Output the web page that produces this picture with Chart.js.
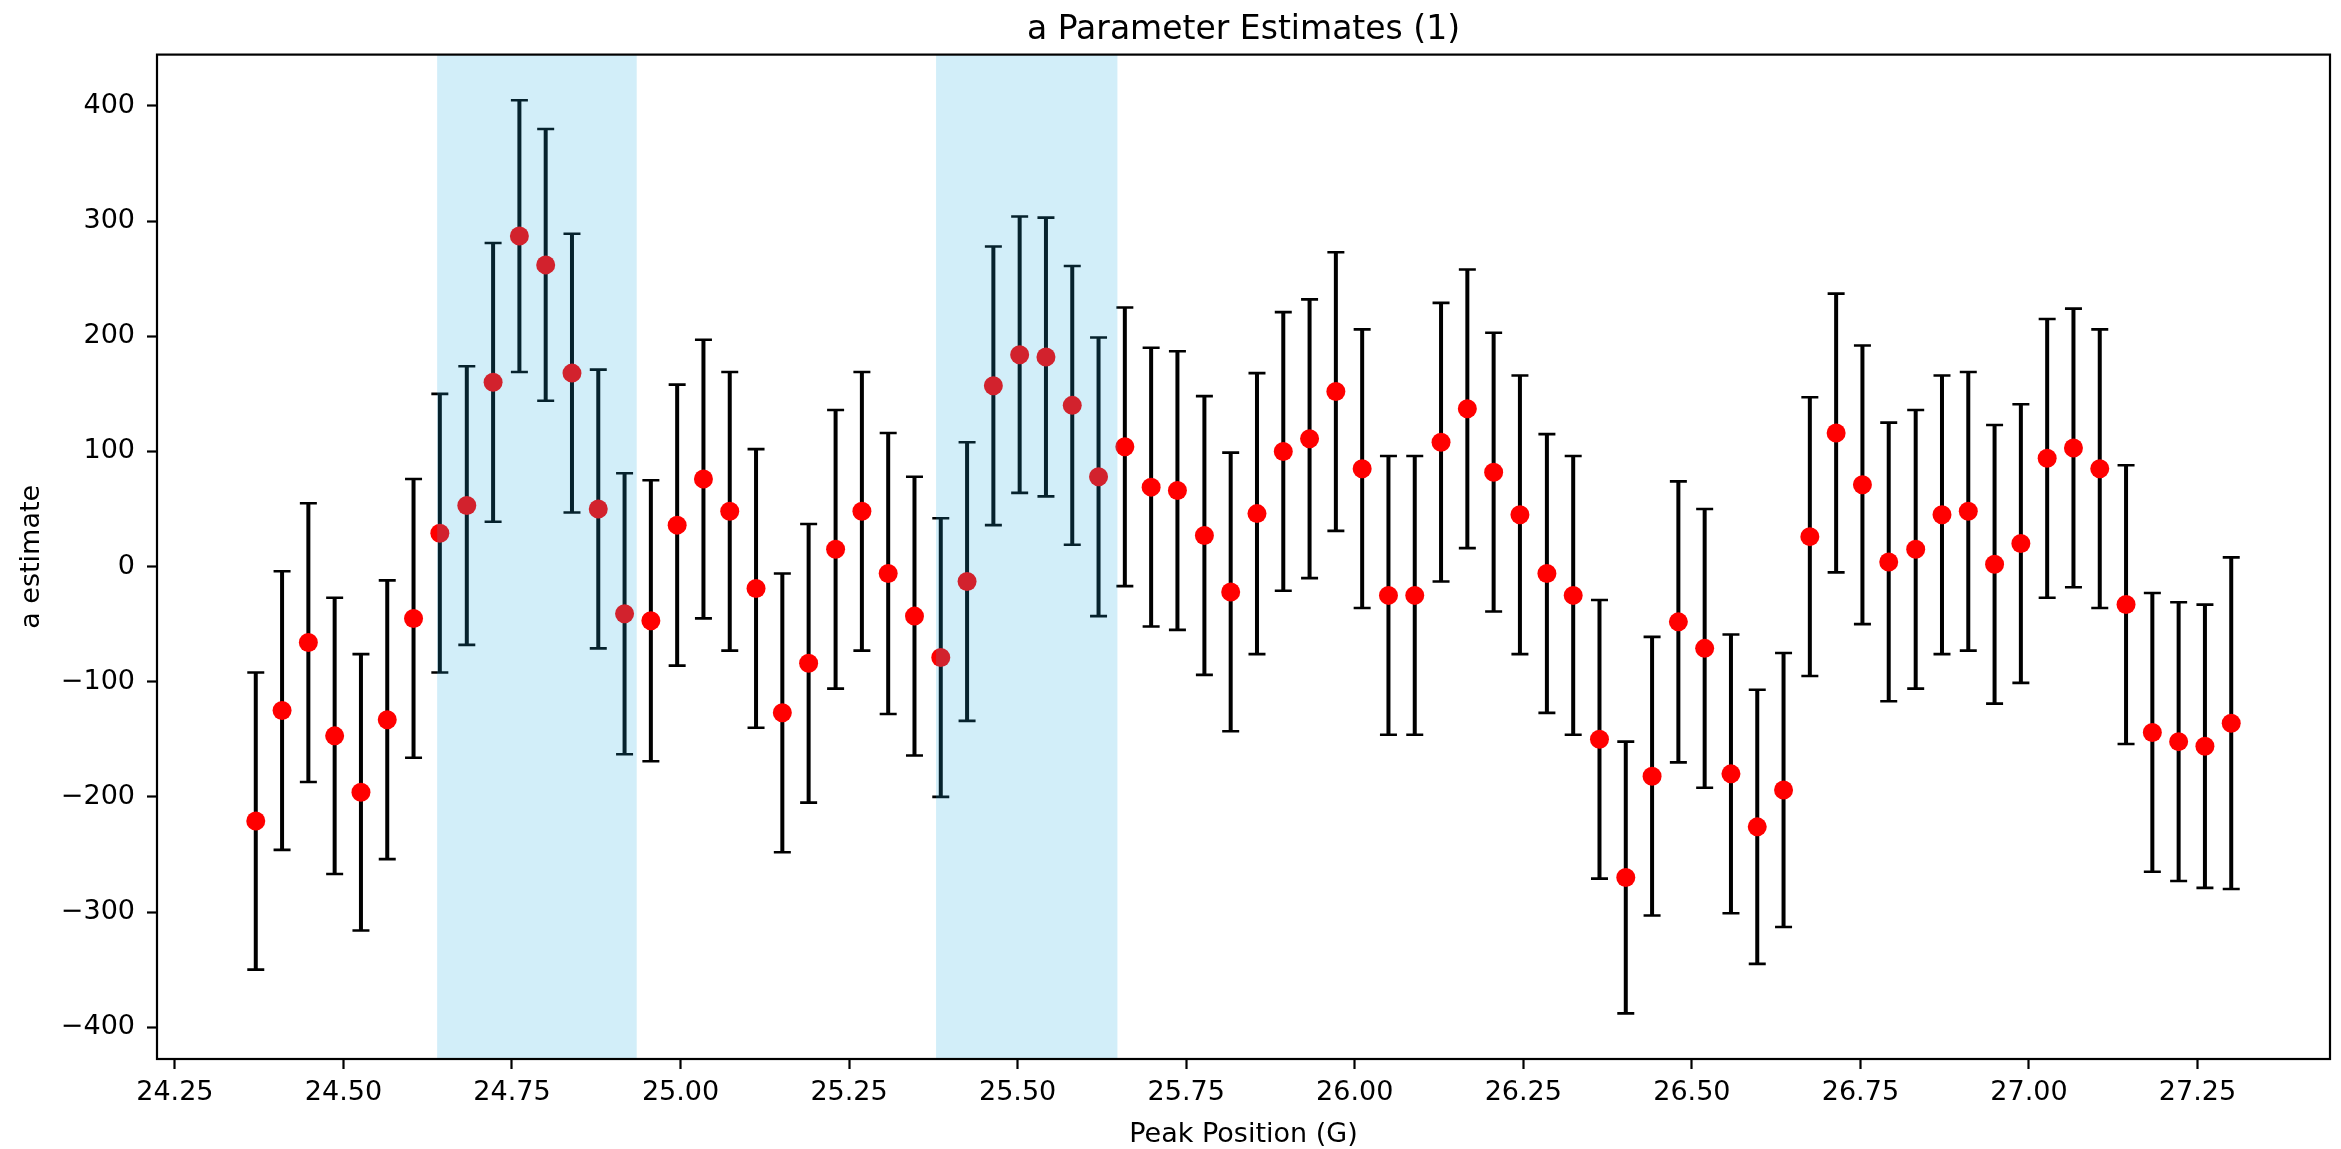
<!DOCTYPE html>
<html>
<head>
<meta charset="utf-8">
<script src="https://cdn.jsdelivr.net/npm/chart.js@4.4.1/dist/chart.umd.min.js"></script>
<style>
html, body { margin: 0; padding: 0; background: #ffffff; }
canvas { display: block; }
</style>
</head>
<body>
<canvas id="chart" width="2341" height="1149" style="width:2341px;height:1149px"></canvas>
<script>
// ---- Data ----
const peakPositions = [
  24.370, 24.409, 24.448, 24.487, 24.526, 24.565, 24.604, 24.643, 24.683, 24.722,
  24.761, 24.800, 24.839, 24.878, 24.917, 24.956, 24.995, 25.034, 25.073, 25.112,
  25.151, 25.190, 25.230, 25.269, 25.308, 25.347, 25.386, 25.425, 25.464, 25.503,
  25.542, 25.581, 25.620, 25.659, 25.698, 25.737, 25.777, 25.816, 25.855, 25.894,
  25.933, 25.972, 26.011, 26.050, 26.089, 26.128, 26.167, 26.206, 26.245, 26.285,
  26.324, 26.363, 26.402, 26.441, 26.480, 26.519, 26.558, 26.597, 26.636, 26.675,
  26.714, 26.753, 26.792, 26.832, 26.871, 26.910, 26.949, 26.988, 27.027, 27.066,
  27.105, 27.144, 27.183, 27.222, 27.261, 27.300
];
const aEstimates = [
  -221, -125, -66, -147, -196, -133, -45, 29, 53, 160,
  287, 262, 168, 50, -41, -47, 36, 76, 48, -19,
  -127, -84, 15, 48, -6, -43, -79, -13, 157, 184,
  182, 140, 78, 104, 69, 66, 27, -22, 46, 100,
  111, 152, 85, -25, -25, 108, 137, 82, 45, -6,
  -25, -150, -270, -182, -48, -71, -180, -226, -194, 26,
  116, 71, 4, 15, 45, 48, 2, 20, 94, 103,
  85, -33, -144, -152, -156, -136
];
const aErrors = [
  129, 121, 121, 120, 120, 121, 121, 121, 121, 121,
  118, 118, 121, 121, 122, 122, 122, 121, 121, 121,
  121, 121, 121, 121, 122, 121, 121, 121, 121, 120,
  121, 121, 121, 121, 121, 121, 121, 121, 122, 121,
  121, 121, 121, 121, 121, 121, 121, 121, 121, 121,
  121, 121, 118, 121, 122, 121, 121, 119, 119, 121,
  121, 121, 121, 121, 121, 121, 121, 121, 121, 121,
  121, 121, 121, 121, 123, 144
];
const xTickValues = [24.25, 24.50, 24.75, 25.00, 25.25, 25.50, 25.75, 26.00, 26.25, 26.50, 26.75, 27.00, 27.25];
const yTickValues = [-400, -300, -200, -100, 0, 100, 200, 300, 400];
const shadedStarts = [24.639, 25.379];
const shadedEnds = [24.935, 25.648];

const xLimits = [24.2235, 27.4465];
const yLimits = [-427.6, 444.6];

const FONT = 'DejaVu Sans';

// ---- Plugins ----
const errorBarPlugin = {
  id: 'errorBars',
  beforeDatasetsDraw(chart) {
    const { ctx } = chart;
    const xs = chart.scales.x, ys = chart.scales.y;
    ctx.save();
    ctx.strokeStyle = '#000000';
    ctx.lineCap = 'butt';
    for (let i = 0; i < peakPositions.length; i++) {
      const xp = xs.getPixelForValue(peakPositions[i]);
      const yTop = ys.getPixelForValue(aEstimates[i] + aErrors[i]);
      const yBot = ys.getPixelForValue(aEstimates[i] - aErrors[i]);
      ctx.lineWidth = 4;
      ctx.beginPath();
      ctx.moveTo(xp, yTop);
      ctx.lineTo(xp, yBot);
      ctx.stroke();
      ctx.lineWidth = 2.6;
      ctx.beginPath();
      ctx.moveTo(xp - 8.5, yTop); ctx.lineTo(xp + 8.5, yTop);
      ctx.moveTo(xp - 8.5, yBot); ctx.lineTo(xp + 8.5, yBot);
      ctx.stroke();
    }
    ctx.restore();
  }
};

const bandPlugin = {
  id: 'bands',
  afterDatasetsDraw(chart) {
    const { ctx, chartArea } = chart;
    const xs = chart.scales.x;
    ctx.save();
    ctx.fillStyle = 'rgba(30,170,225,0.2)';
    for (let i = 0; i < shadedStarts.length; i++) {
      const x0 = xs.getPixelForValue(shadedStarts[i]);
      const x1 = xs.getPixelForValue(shadedEnds[i]);
      ctx.fillRect(x0, chartArea.top, x1 - x0, chartArea.bottom - chartArea.top);
    }
    ctx.restore();
  }
};

const framePlugin = {
  id: 'frame',
  afterDraw(chart) {
    const { ctx, chartArea } = chart;
    ctx.save();
    ctx.strokeStyle = '#000000';
    ctx.lineWidth = 2.2;
    ctx.strokeRect(chartArea.left, chartArea.top, chartArea.right - chartArea.left, chartArea.bottom - chartArea.top);
    ctx.restore();
  }
};

const fmtNum = v => (v < 0 ? '\u2212' : '') + Math.abs(v);

new Chart(document.getElementById('chart'), {
  type: 'scatter',
  data: {
    datasets: [{
      label: 'a estimate',
      data: peakPositions.map((x, i) => ({ x: x, y: aEstimates[i] })),
      backgroundColor: '#ff0000',
      borderWidth: 0,
      pointRadius: 9.5,
      pointHoverRadius: 9.5
    }]
  },
  options: {
    responsive: false,
    devicePixelRatio: 1,
    animation: false,
    layout: { padding: { left: 0, right: 11, top: 0, bottom: 0 } },
    plugins: {
      legend: { display: false },
      tooltip: { enabled: false },
      title: {
        display: true,
        text: 'a Parameter Estimates (1)',
        fullSize: false,
        color: '#000000',
        font: { family: FONT, size: 33, weight: 'normal', lineHeight: 1.2 },
        padding: { top: 11, bottom: 4 }
      }
    },
    scales: {
      x: {
        type: 'linear',
        position: 'bottom',
        min: xLimits[0],
        max: xLimits[1],
        afterBuildTicks: s => { s.ticks = xTickValues.map(v => ({ value: v })); },
        afterFit: s => { s.height = 90; },
        border: { display: false },
        grid: { display: true, drawOnChartArea: false, drawTicks: true, tickLength: 10, tickWidth: 2.2, tickColor: '#000000' },
        ticks: {
          color: '#000000',
          font: { family: FONT, size: 27 },
          padding: 8,
          maxRotation: 0,
          autoSkip: false,
          callback: v => Number(v).toFixed(2)
        },
        title: {
          display: true,
          text: 'Peak Position (G)',
          color: '#000000',
          font: { family: FONT, size: 27, lineHeight: 1 },
          padding: { top: 0, bottom: 1 }
        }
      },
      y: {
        type: 'linear',
        position: 'left',
        min: yLimits[0],
        max: yLimits[1],
        afterBuildTicks: s => { s.ticks = yTickValues.map(v => ({ value: v })); },
        afterFit: s => { s.width = 157; },
        border: { display: false },
        grid: { display: true, drawOnChartArea: false, drawTicks: true, tickLength: 10, tickWidth: 2.2, tickColor: '#000000' },
        ticks: {
          color: '#000000',
          font: { family: FONT, size: 27 },
          padding: 12,
          autoSkip: false,
          callback: v => fmtNum(v)
        },
        title: {
          display: true,
          text: 'a estimate',
          color: '#000000',
          font: { family: FONT, size: 27, lineHeight: 1.2 },
          padding: { top: 16, bottom: 0 }
        }
      }
    }
  },
  plugins: [errorBarPlugin, bandPlugin, framePlugin]
});
</script>
</body>
</html>
